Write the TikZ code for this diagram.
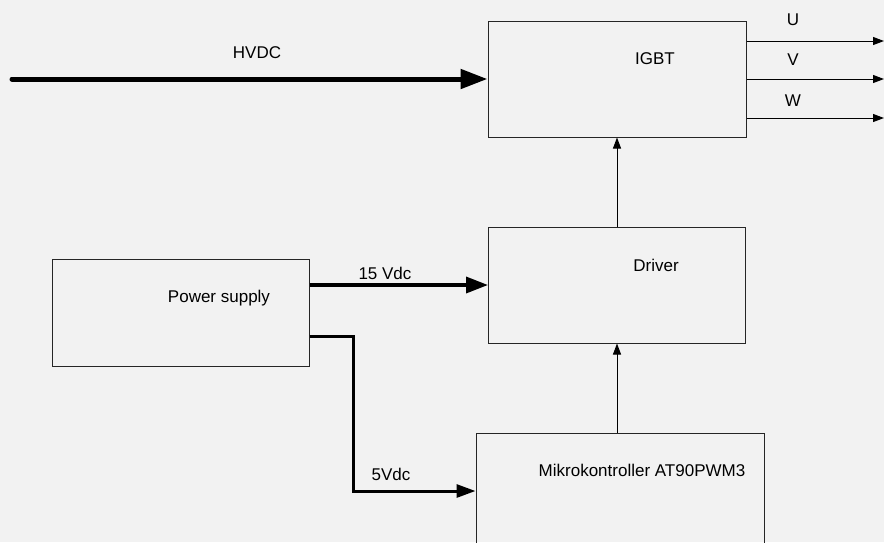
\documentclass[tikz,border=0pt]{standalone}
\usepackage{fontspec}
\setmainfont{Liberation Sans}
\usetikzlibrary{arrows.meta}
\definecolor{bggray}{HTML}{F2F2F2}
\begin{document}
\begin{tikzpicture}[x=1pt,y=-1pt,
  box/.style={draw=black!85,line width=1pt,rectangle,inner sep=0pt},
  lbl/.style={inner sep=0pt,font=\fontsize{17}{20}\selectfont},
  thin/.style={line width=1pt,-{Triangle[length=11pt,width=8pt]}},
  bus/.style={line width=3.5pt,-{Triangle[length=22pt,width=16pt]}},
  hv/.style={line width=5pt,line cap=round,-{Triangle[length=27pt,width=19pt]}}]
\fill[bggray] (0,0) rectangle (884,542);
\useasboundingbox (0,0) rectangle (884,542);
\clip (0,0) rectangle (884,542);
% boxes
\node[box,minimum width=258pt,minimum height=116pt] (igbt) at (617,79) {};
\node[box,minimum width=257pt,minimum height=116pt] (driver) at (617,285) {};
\node[box,minimum width=257pt,minimum height=107pt] (ps) at (180.5,312.5) {};
\node[box,minimum width=288pt,minimum height=116pt] (mikro) at (620,491) {};
% texts
\node[lbl] (tigbt) at (655,59) {IGBT};
\node[lbl] (tdriver) at (656,265) {Driver};
\node[lbl] (tps) at (219,298) {Power supply};
\node[lbl] (tmikro) at (642,470) {Mikrokontroller AT90PWM3};
\node[lbl] (thvdc) at (257,53) {HVDC};
\node[lbl] (t15) at (385,273) {15 Vdc};
\node[lbl] (t5) at (391,474) {5Vdc};
\node[lbl] (tu) at (793,20) {U};
\node[lbl] (tv) at (793,60) {V};
\node[lbl] (tw) at (793,101) {W};
% free ends
\coordinate (hvin) at (12,79);
\coordinate (uo) at (884,41);
\coordinate (vo) at (884,79);
\coordinate (wo) at (884,118);
\coordinate (bend) at (353,336);
% connectors
\draw[hv] (hvin) -- (igbt.west);
\draw[thin] (igbt.east |- uo) -- (uo);
\draw[thin] (igbt.east |- vo) -- (vo);
\draw[thin] (igbt.east |- wo) -- (wo);
\draw[thin] (driver.north) -- (igbt.south);
\draw[thin] (mikro.north -| driver.south) -- (driver.south);
\draw[bus] (ps.east |- driver.west) -- (driver.west);
\draw[line width=3pt,-{Triangle[length=19pt,width=13pt]}] (ps.east |- bend) -- (bend) |- (mikro.west);
\end{tikzpicture}
\end{document}
